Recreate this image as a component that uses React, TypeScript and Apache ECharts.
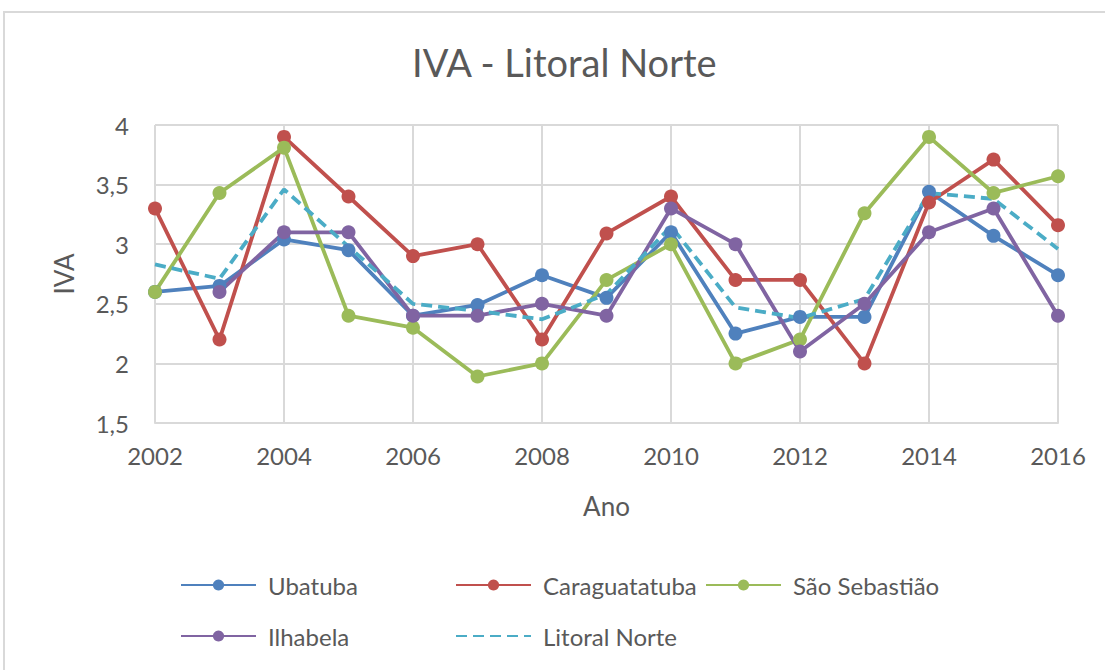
import React, { useEffect, useRef } from "react";
import * as echarts from "echarts";

const years = [2002, 2003, 2004, 2005, 2006, 2007, 2008, 2009, 2010, 2011, 2012, 2013, 2014, 2015, 2016];
const ubatuba = [2.6, 2.65, 3.04, 2.95, 2.4, 2.49, 2.74, 2.55, 3.1, 2.25, 2.39, 2.39, 3.44, 3.07, 2.74];
const caraguatatuba = [3.3, 2.2, 3.9, 3.4, 2.9, 3.0, 2.2, 3.09, 3.4, 2.7, 2.7, 2.0, 3.35, 3.71, 3.16];
const saoSebastiao = [2.6, 3.43, 3.81, 2.4, 2.3, 1.89, 2.0, 2.7, 3.0, 2.0, 2.2, 3.26, 3.9, 3.43, 3.57];
const ilhabela: (number | null)[] = [null, 2.6, 3.1, 3.1, 2.4, 2.4, 2.5, 2.4, 3.3, 3.0, 2.1, 2.5, 3.1, 3.3, 2.4];
const litoralNorte = [2.83, 2.71, 3.46, 2.98, 2.5, 2.44, 2.37, 2.58, 3.15, 2.47, 2.38, 2.54, 3.43, 3.38, 2.96];

const seriesNames = ["Ubatuba", "Caraguatatuba", "São Sebastião", "Ilhabela", "Litoral Norte"];
const colors = ["#4F81BD", "#C0504D", "#9BBB59", "#8064A2", "#4BACC6"];

const FONT = "Lato";
const TEXT = "#595959";

function pairs(vals: (number | null)[]) {
  const out: [number, number][] = [];
  vals.forEach((v, i) => {
    if (v !== null && v !== undefined) out.push([years[i], v]);
  });
  return out;
}

export default function App() {
  const ref = useRef<HTMLDivElement>(null);
  useEffect(() => {
    if (!ref.current) return;
    const chart = echarts.init(ref.current, undefined, { renderer: "svg" });
    const allVals = [ubatuba, caraguatatuba, saoSebastiao, ilhabela, litoralNorte];
    const series: any[] = allVals.map((vals, i) => {
      const dashed = i === 4;
      return {
        name: seriesNames[i],
        type: "line",
        data: pairs(vals),
        symbol: dashed ? "none" : "circle",
        symbolSize: 14,
        showSymbol: !dashed,
        color: colors[i],
        itemStyle: { color: colors[i] },
        lineStyle: { color: colors[i], width: 3.8, type: dashed ? [11, 6] : "solid" },
        emphasis: { disabled: true },
      };
    });
    const legendPos = [
      { left: 180, top: 572 },
      { left: 455, top: 572 },
      { left: 705, top: 572 },
      { left: 180, top: 623 },
      { left: 455, top: 623 },
    ];
    const legends = seriesNames.map((n, i) => ({
      data: [i === 4 ? { name: n, itemStyle: { opacity: 0 } } : n],
      left: legendPos[i].left,
      top: legendPos[i].top,
      itemWidth: 75,
      itemHeight: 14,
      padding: 0,
      selectedMode: false,
      textStyle: { fontFamily: FONT, fontSize: 24, color: TEXT, padding: [0, 0, 0, 7], lineHeight: 26 },
    }));
    chart.setOption({
      animation: false,
      backgroundColor: "#ffffff",
      title: {
        text: "IVA - Litoral Norte",
        left: 407,
        top: 38,
        textStyle: { fontFamily: FONT, fontSize: 38, fontWeight: "normal", color: TEXT },
      },
      graphic: [
        {
          type: "rect",
          shape: { x: 4, y: 12, width: 1120, height: 680 },
          style: { fill: "none", stroke: "#d9d9d9", lineWidth: 2 },
          silent: true,
        },
      ],
      legend: legends,
      grid: { left: 155, right: 47, top: 125, bottom: 247, containLabel: false, outerBoundsMode: "none" },
      xAxis: {
        type: "value",
        min: 2002,
        max: 2016,
        interval: 2,
        name: "Ano",
        nameLocation: "middle",
        nameGap: 70,
        nameTextStyle: { fontFamily: FONT, fontSize: 26, color: TEXT },
        axisLine: { show: true, lineStyle: { color: "#d9d9d9", width: 2 } },
        axisTick: { show: false },
        splitLine: { show: true, lineStyle: { color: "#d9d9d9", width: 2 } },
        axisLabel: {
          fontFamily: FONT,
          fontSize: 24,
          color: TEXT,
          margin: 20,
          formatter: (v: number) => String(v),
        },
      },
      yAxis: {
        type: "value",
        min: 1.5,
        max: 4,
        interval: 0.5,
        name: "IVA",
        nameLocation: "middle",
        nameGap: 78,
        nameRotate: 90,
        nameTextStyle: { fontFamily: FONT, fontSize: 26, color: TEXT },
        axisLine: { show: false },
        axisTick: { show: false },
        splitLine: { show: true, lineStyle: { color: "#d9d9d9", width: 2 } },
        axisLabel: {
          fontFamily: FONT,
          fontSize: 24,
          color: TEXT,
          margin: 26,
          formatter: (v: number) => String(v).replace(".", ","),
        },
      },
      series,
    });
    return () => chart.dispose();
  }, []);
  return (
    <div
      ref={ref}
      style={{ position: "absolute", left: 0, top: 0, width: 1105, height: 670 }}
    />
  );
}
